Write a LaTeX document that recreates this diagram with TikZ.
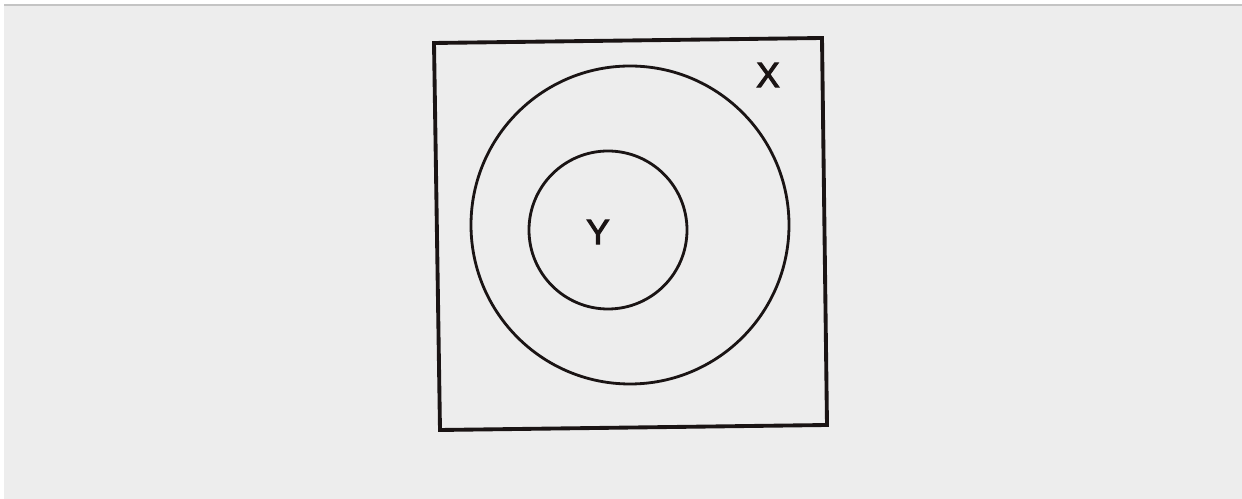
\documentclass[tikz,border=0pt]{standalone}
\usepackage{fontspec}
\setmainfont{Liberation Sans}
\newfontfamily\labelfont[FakeBold=3]{Liberation Sans}
\usepackage{xcolor}
\usepackage{tikz}
\usetikzlibrary{positioning, calc}

\definecolor{paper}{HTML}{EDEDED}
\definecolor{rule}{HTML}{C4C4C4}
\definecolor{ink}{HTML}{1A1414}

\begin{document}
\begin{tikzpicture}[x=0.02cm, y=-0.02cm, every node/.style={font=\labelfont\fontsize{20}{24}\selectfont, text=ink}]
  \useasboundingbox (0,0) rectangle (1242,499);
  \fill[white] (0,0) rectangle (1242,499);
  \fill[paper] (4,4) rectangle (1242,499);
  \fill[rule] (4,4) rectangle (1242,6);
  % set X
  \draw[ink, line width=2.2pt, line join=miter] (434,43) -- (822,38) -- (827,425) -- (440,430) -- cycle;
  \draw[ink, line width=1.6pt] (630,225) circle (159);
  \draw[ink, line width=1.6pt] (608,230) circle (79);
  \node (labX) at (768,75) {X};
  \node (labY) at (598,232) {Y};
\end{tikzpicture}
\end{document}
